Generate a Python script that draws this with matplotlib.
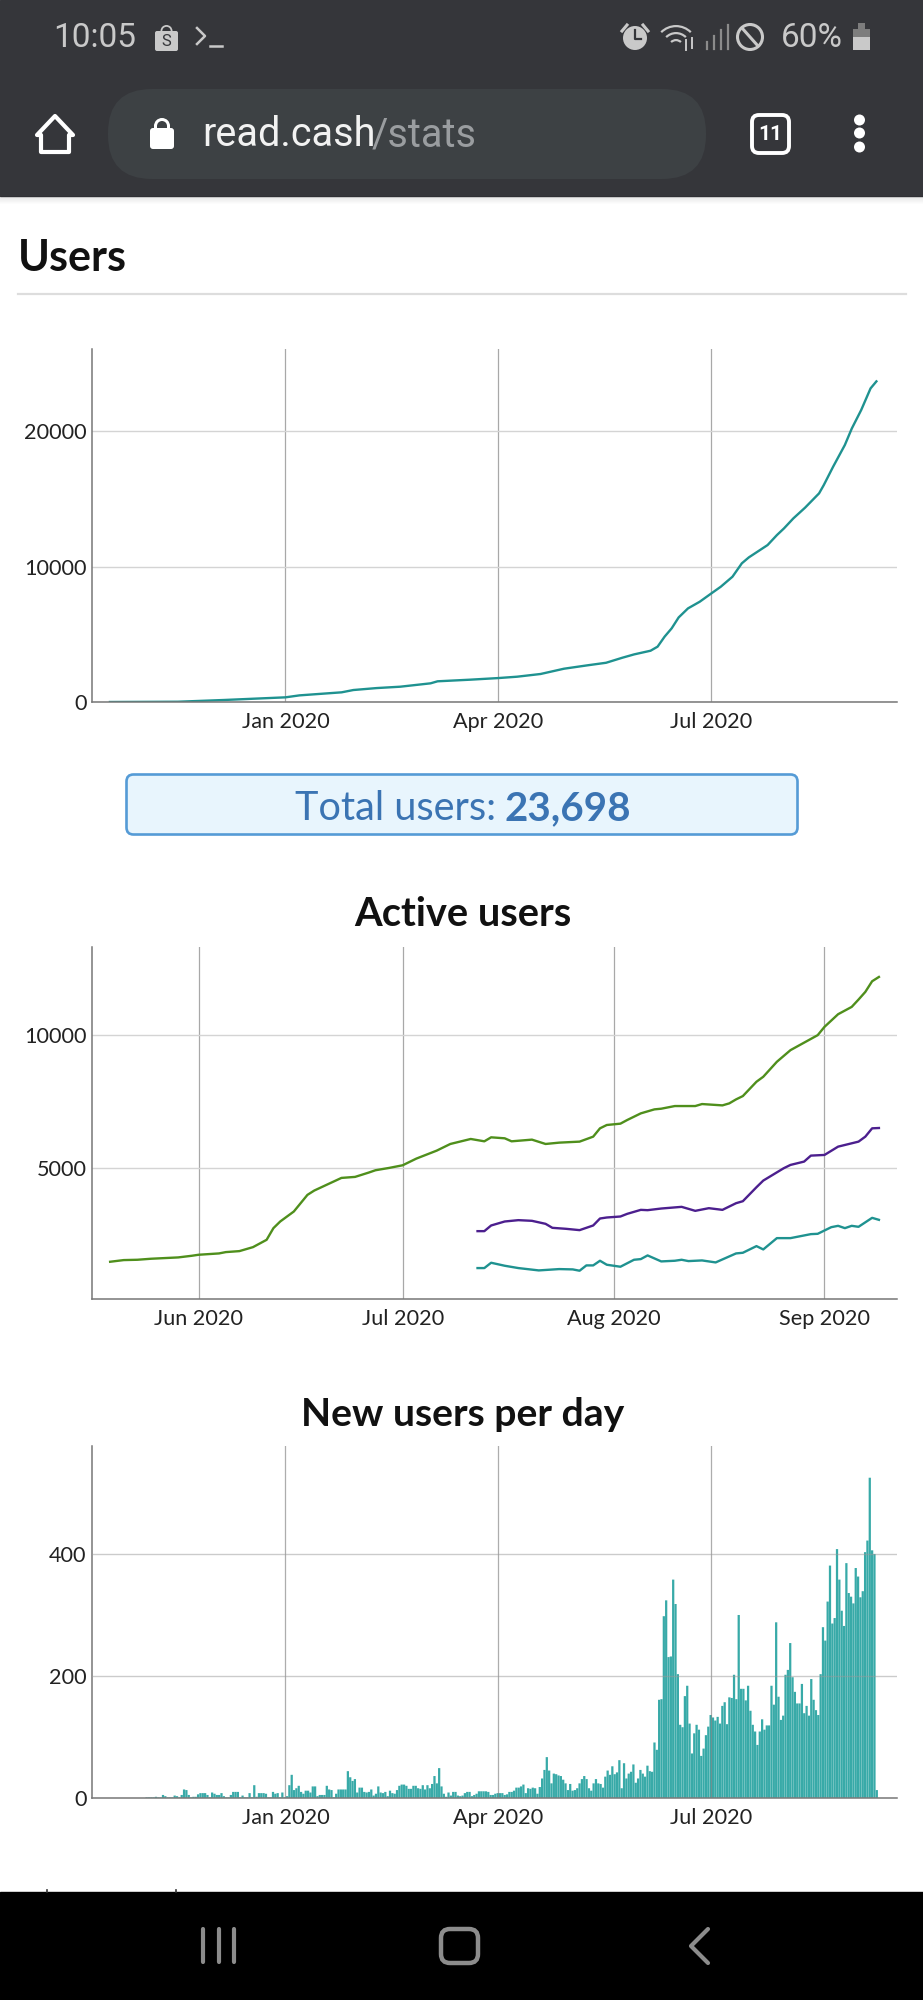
import numpy as np
import pandas as pd
import matplotlib
matplotlib.use("Agg")
import matplotlib.pyplot as plt
import matplotlib.dates as mdates
from matplotlib.patches import Rectangle, FancyBboxPatch, Circle, Polygon, Wedge

plt.rcParams['font.family'] = ['Lato', 'DejaVu Sans']

# total users, days counted from 2020-01-01
users_days = [-75, -46, -26, 0, 6, 24, 29, 39, 49, 62, 65, 79, 91, 99, 109, 119, 129, 137, 144, 149, 156,
              159, 162, 165, 168, 172, 177, 182, 186, 191, 195, 198, 206, 210, 213, 217, 222, 228, 230,
              234, 239, 242, 246, 250, 252.5]
users_total = [0, 20, 150, 345, 490, 715, 885, 1030, 1130, 1380, 1530, 1650, 1770, 1870, 2070, 2460, 2710,
               2900, 3275, 3520, 3790, 4090, 4830, 5440, 6250, 6920, 7410, 8030, 8520, 9260, 10250, 10690,
               11600, 12340, 12830, 13570, 14360, 15420, 16030, 17390, 18990, 20220, 21580, 23180, 23698]

# active users, days counted from 2020-06-01
green_days = [-13, -11, -9, -7, -3, -1, 0, 3, 4, 6, 8, 10, 11, 12, 14, 16, 17, 19, 21, 23, 25, 26, 28, 30,
              32, 35, 37, 40, 42, 43, 45, 46, 49, 51, 53, 56, 58, 59, 60, 62, 63, 65, 67, 68, 70, 73, 74,
              77, 78, 79, 80, 82, 83, 85, 87, 91, 92, 94, 96, 97, 98, 99, 100]
green_values = [1487, 1550, 1562, 1600, 1650, 1712, 1750, 1800, 1850, 1887, 2037, 2312, 2750, 3000, 3375,
                4000, 4162, 4400, 4637, 4675, 4837, 4925, 5012, 5112, 5362, 5662, 5912, 6100, 6012, 6162,
                6125, 6012, 6075, 5912, 5962, 6000, 6187, 6500, 6625, 6675, 6812, 7062, 7212, 7237, 7337,
                7337, 7412, 7362, 7437, 7587, 7712, 8250, 8437, 9000, 9437, 10000, 10312, 10787, 11062,
                11337, 11625, 12025, 12187]
purple_days = [41, 42, 43, 45, 47, 49, 51, 52, 54, 56, 58, 59, 60, 62, 63, 65, 66, 68, 71, 73, 75, 77, 79,
               80, 82, 83, 86, 87, 89, 90, 92, 94, 97, 98, 99, 100]
purple_values = [2637, 2637, 2850, 3000, 3050, 3025, 2912, 2762, 2725, 2675, 2850, 3112, 3150, 3187, 3287,
                 3437, 3425, 3487, 3550, 3400, 3500, 3437, 3687, 3762, 4287, 4537, 5000, 5125, 5250, 5475,
                 5500, 5812, 6000, 6187, 6500, 6512]
teal_days = [41, 42, 43, 45, 47, 50, 53, 55, 56, 57, 58, 59, 60, 62, 64, 65, 66, 68, 70, 71, 72, 74, 76, 79,
             80, 82, 83, 85, 87, 90, 91, 93, 94, 95, 96, 97, 99, 100]
teal_values = [1250, 1250, 1450, 1337, 1250, 1162, 1212, 1200, 1150, 1350, 1350, 1525, 1375, 1300, 1562,
               1587, 1725, 1500, 1525, 1562, 1512, 1537, 1462, 1800, 1825, 2075, 1950, 2375, 2375, 2525,
               2537, 2787, 2837, 2750, 2837, 2800, 3137, 3062]

# new users per day, one block per stretch of the calendar
new_users_2019 = [1, 1, 1, 1, 2, 1, 1, 5, 3, 1, 1, 1, 4, 3, 1, 5, 14, 13, 5, 1, 2, 2, 6, 8, 8, 8, 5, 1, 9,
                  7, 5, 5, 8, 3, 1, 1, 5, 10, 10, 10, 1, 4, 1, 1, 8, 1, 21, 2, 8, 8, 8, 7, 1, 1, 10, 7, 8,
                  1, 9, 1]
new_users_q1 = [3, 21, 38, 13, 16, 20, 10, 7, 12, 12, 9, 19, 19, 3, 5, 5, 5, 20, 14, 13, 1, 7, 14, 14, 14,
                14, 44, 34, 28, 31, 9, 17, 17, 10, 9, 10, 14, 4, 7, 19, 9, 8, 10, 3, 12, 8, 7, 13, 20, 22,
                22, 20, 15, 15, 20, 20, 16, 15, 21, 14, 21, 16, 23, 36, 24, 49, 19, 7, 2, 9, 4, 10, 10, 4,
                3, 4, 8, 10, 10, 3, 5, 7, 11, 11, 11, 11, 10, 5, 5, 7, 8]
new_users_rest = [8, 8, 5, 6, 10, 10, 12, 17, 17, 19, 22, 8, 16, 15, 17, 16, 7, 18, 32, 46, 67, 45, 24, 40,
                  39, 37, 36, 30, 24, 13, 23, 12, 13, 16, 24, 31, 36, 31, 16, 12, 24, 31, 24, 23, 17, 35,
                  45, 38, 52, 39, 42, 62, 16, 57, 32, 40, 43, 55, 25, 32, 46, 40, 35, 53, 44, 43, 91, 79,
                  161, 162, 298, 324, 231, 232, 358, 318, 203, 120, 116, 167, 184, 122, 73, 106, 120, 112,
                  69, 81, 103, 117, 136, 132, 127, 133, 122, 151, 157, 121, 165, 164, 202, 162, 300, 179,
                  179, 160, 184, 143, 120, 109, 87, 109, 129, 112, 119, 119, 184, 153, 288, 166, 128, 135,
                  202, 210, 254, 198, 174, 155, 155, 187, 139, 151, 135, 195, 161, 144, 136, 203, 280, 258,
                  322, 381, 286, 295, 408, 358, 307, 282, 385, 336, 330, 319, 377, 363, 329, 339, 403, 422,
                  525, 406, 400, 13]

users_ticks = ['2020-01-01', '2020-04-01', '2020-07-01']
active_ticks = ['2020-06-01', '2020-07-01', '2020-08-01', '2020-09-01']

teal = '#1f9290'
green = '#4f8f1c'
purple = '#4c1f8e'
bar_color = '#38aaa8'
H = 2000
W = 923

fig = plt.figure(figsize=(W / 100, H / 100), dpi=100, facecolor='white')


def axes_px(left, top, right, bottom):
    return fig.add_axes([left / W, 1 - bottom / H, (right - left) / W, (bottom - top) / H])


def style(ax, ticks, fmt):
    for side in ['top', 'right']:
        ax.spines[side].set_visible(False)
    for side in ['left', 'bottom']:
        ax.spines[side].set_color('#777777')
        ax.spines[side].set_linewidth(1.1)
    ax.set_xticks(pd.to_datetime(ticks))
    ax.xaxis.set_major_formatter(mdates.DateFormatter(fmt))
    ax.tick_params(length=0, labelsize=15.6, colors='#222222')
    ax.tick_params(axis='x', pad=7)
    ax.tick_params(axis='y', pad=4)
    ax.grid(axis='x', color='#a8a8a8', lw=0.9)
    ax.grid(axis='y', color='#d4d4d4', lw=1.0)


# full page layer in pixels, for the browser around the charts
page = fig.add_axes([0, 0, 1, 1], zorder=-1)
page.set_xlim(0, W)
page.set_ylim(H, 0)
page.axis('off')

page.add_patch(Rectangle((0, 0), W, 196, color='#35363a'))
for i in range(8):
    page.add_patch(Rectangle((0, 196 + i), W, 1, color='#000000', alpha=0.10 * (1 - i / 8), lw=0))
page.add_patch(FancyBboxPatch((108, 89), 598, 90, boxstyle='round,pad=0,rounding_size=44',
                              color='#3d4144', lw=0))
page.add_patch(Rectangle((0, 1892), W, 108, color='#000000'))

ui = dict(family=['Roboto', 'DejaVu Sans'], va='center')
page.text(53, 38, '10:05', color='#c9c9c9', fontsize=24, **ui)
page.text(781, 38, '60%', color='#c9c9c9', fontsize=24, **ui)
page.text(202, 135, 'read.cash', color='#f2f2f2', fontsize=28.5, **ui)
page.text(372, 135, '/stats', color='#9a9da0', fontsize=28.5, **ui)

# shop bag and terminal prompt
page.add_patch(FancyBboxPatch((155, 31), 23, 20, boxstyle='round,pad=0,rounding_size=2', color='#c9c9c9', lw=0))
page.add_patch(Wedge((166.5, 31), 6, 180, 360, width=1.8, color='#c9c9c9', lw=0))
page.text(166.5, 41, 'S', color='#35363a', fontsize=12, ha='center', **ui)
page.plot([197, 205, 197], [28, 36, 44], color='#c9c9c9', lw=1.8)
page.plot([210, 222], [46, 46], color='#c9c9c9', lw=1.8)

# alarm, wifi, signal, blocked and battery
page.add_patch(Circle((635, 38), 12, color='#c9c9c9', lw=0))
page.plot([635, 635, 641], [30, 39, 39], color='#35363a', lw=1.6)
page.plot([622, 627], [31, 25], color='#c9c9c9', lw=2.2)
page.plot([648, 643], [31, 25], color='#c9c9c9', lw=2.2)
for r in [22, 15, 8]:
    page.add_patch(Wedge((676, 47), r, 225, 315, width=2.2, color='#c9c9c9', lw=0))
page.plot([686, 686], [50, 40], color='#c9c9c9', lw=1.4)
page.plot([692, 692], [38, 48], color='#c9c9c9', lw=1.4)
for i, top in enumerate([42, 36, 30, 25]):
    page.plot([707 + i * 7, 707 + i * 7], [top, 49], color='#8b8b8b', lw=1.6)
page.add_patch(Circle((750, 37), 12.5, fill=False, ec='#c9c9c9', lw=2.2))
page.plot([742, 758], [28, 46], color='#c9c9c9', lw=2.2)
page.add_patch(Rectangle((853, 29), 17, 21, color='#c9c9c9', lw=0))
page.add_patch(Rectangle((853, 29), 17, 8, color='#7d7d7d', lw=0))
page.add_patch(Rectangle((858, 23), 7, 6, color='#7d7d7d', lw=0))

# home, lock, tab count and menu
page.add_patch(Polygon([[55, 116], [73, 135], [69, 135], [69, 152], [41, 152], [41, 135], [37, 135]],
                       fill=False, ec='white', lw=3, joinstyle='round'))
page.add_patch(FancyBboxPatch((150, 128), 24, 21, boxstyle='round,pad=0,rounding_size=3', color='white', lw=0))
page.add_patch(Wedge((162, 126), 8, 180, 360, width=3, color='white', lw=0))
page.add_patch(Rectangle((154, 125), 3, 5, color='white', lw=0))
page.add_patch(Rectangle((167, 125), 3, 5, color='white', lw=0))
page.add_patch(FancyBboxPatch((752, 115), 37, 38, boxstyle='round,pad=0,rounding_size=7',
                              fill=False, ec='white', lw=2.8))
page.text(770.5, 134, '11', color='white', fontsize=15, ha='center', fontweight='bold', **ui)
for y in [120, 133, 147]:
    page.add_patch(Circle((859.5, y), 5.5, color='white', lw=0))

# bottom navigation
nav = '#8c8c8c'
for x in [203, 219, 234]:
    page.plot([x, x], [1929, 1962], color=nav, lw=3, solid_capstyle='round')
page.add_patch(FancyBboxPatch((441, 1929), 37, 34, boxstyle='round,pad=0,rounding_size=9',
                              fill=False, ec=nav, lw=3.2))
page.plot([708, 691, 708], [1929, 1946, 1963], color=nav, lw=3, solid_capstyle='round')
page.plot([47, 47], [1890, 1892], color='#333333', lw=1.2)
page.plot([176, 176], [1890, 1892], color='#333333', lw=1.2)

# headings and the total box
page.text(18, 258, 'Users', fontsize=31, fontweight='bold', va='center', color='#111111')
page.plot([18, 906], [294, 294], color='#dddddd', lw=1.6)
page.add_patch(FancyBboxPatch((126.5, 774.5), 671, 60, boxstyle='round,pad=0,rounding_size=7',
                              fc='#e8f5fd', ec='#559bd6', lw=1.9))
page.text(295, 809, 'Total users:', fontsize=28.6, color='#3b74b3', va='center')
page.text(504, 809, '23,698', fontsize=29, color='#3b74b3', fontweight='bold', va='center')
page.text(463, 915, 'Active users', fontsize=28.7, fontweight='bold', ha='center', va='center', color='#111111')
page.text(463, 1414, 'New users per day', fontsize=28.2, fontweight='bold', ha='center', va='center',
          color='#111111')

jan1 = pd.Timestamp('2020-01-01')
jun1 = pd.Timestamp('2020-06-01')
long_range = [pd.Timestamp('2019-10-10 08:00'), pd.Timestamp('2020-09-18 02:00')]

# Users
ax1 = axes_px(92, 349, 896.5, 702)
ax1.plot(jan1 + pd.to_timedelta(users_days, unit='D'), users_total, color=teal, lw=1.7)
ax1.set_xlim(long_range)
ax1.set_ylim(0, 26090)
ax1.set_yticks([0, 10000, 20000])
style(ax1, users_ticks, '%b %Y')

# Active users
ax2 = axes_px(92, 947, 896.5, 1299)
ax2.plot(jun1 + pd.to_timedelta(green_days, unit='D'), green_values, color=green, lw=1.7)
ax2.plot(jun1 + pd.to_timedelta(purple_days, unit='D'), purple_values, color=purple, lw=1.7)
ax2.plot(jun1 + pd.to_timedelta(teal_days, unit='D'), teal_values, color=teal, lw=1.7)
ax2.set_xlim(pd.Timestamp('2020-05-16 08:00'), pd.Timestamp('2020-09-11 14:00'))
ax2.set_ylim(88, 13312)
ax2.set_yticks([5000, 10000])
style(ax2, active_ticks, '%b %Y')

# New users per day, each bar covers its day so it sits right of the date
ax3 = axes_px(92, 1446, 896.5, 1798)
dates_2019 = pd.date_range(end='2019-12-31', periods=len(new_users_2019))
dates_q1 = pd.date_range(start='2020-01-01', periods=len(new_users_q1))
dates_rest = pd.date_range(start='2020-04-01', periods=len(new_users_rest))
bar_dates = dates_2019.append(dates_q1).append(dates_rest) + pd.Timedelta(hours=16)
bars = ax3.bar(bar_dates, new_users_2019 + new_users_q1 + new_users_rest, width=0.96, color=bar_color, lw=0, zorder=2)
for b in bars:
    b.set_snap(False)
ax3.set_xlim(long_range)
ax3.set_ylim(0, 577)
ax3.set_yticks([0, 200, 400])
style(ax3, users_ticks, '%b %Y')
ax3.set_axisbelow(False)
ax3.grid(axis='x', color='#777777', alpha=0.6, lw=0.9)
ax3.grid(axis='y', color='#999999', alpha=0.5, lw=1.0)

for ax in [ax1, ax2, ax3]:
    ax.patch.set_alpha(0)

fig.savefig('out.png', dpi=100)
